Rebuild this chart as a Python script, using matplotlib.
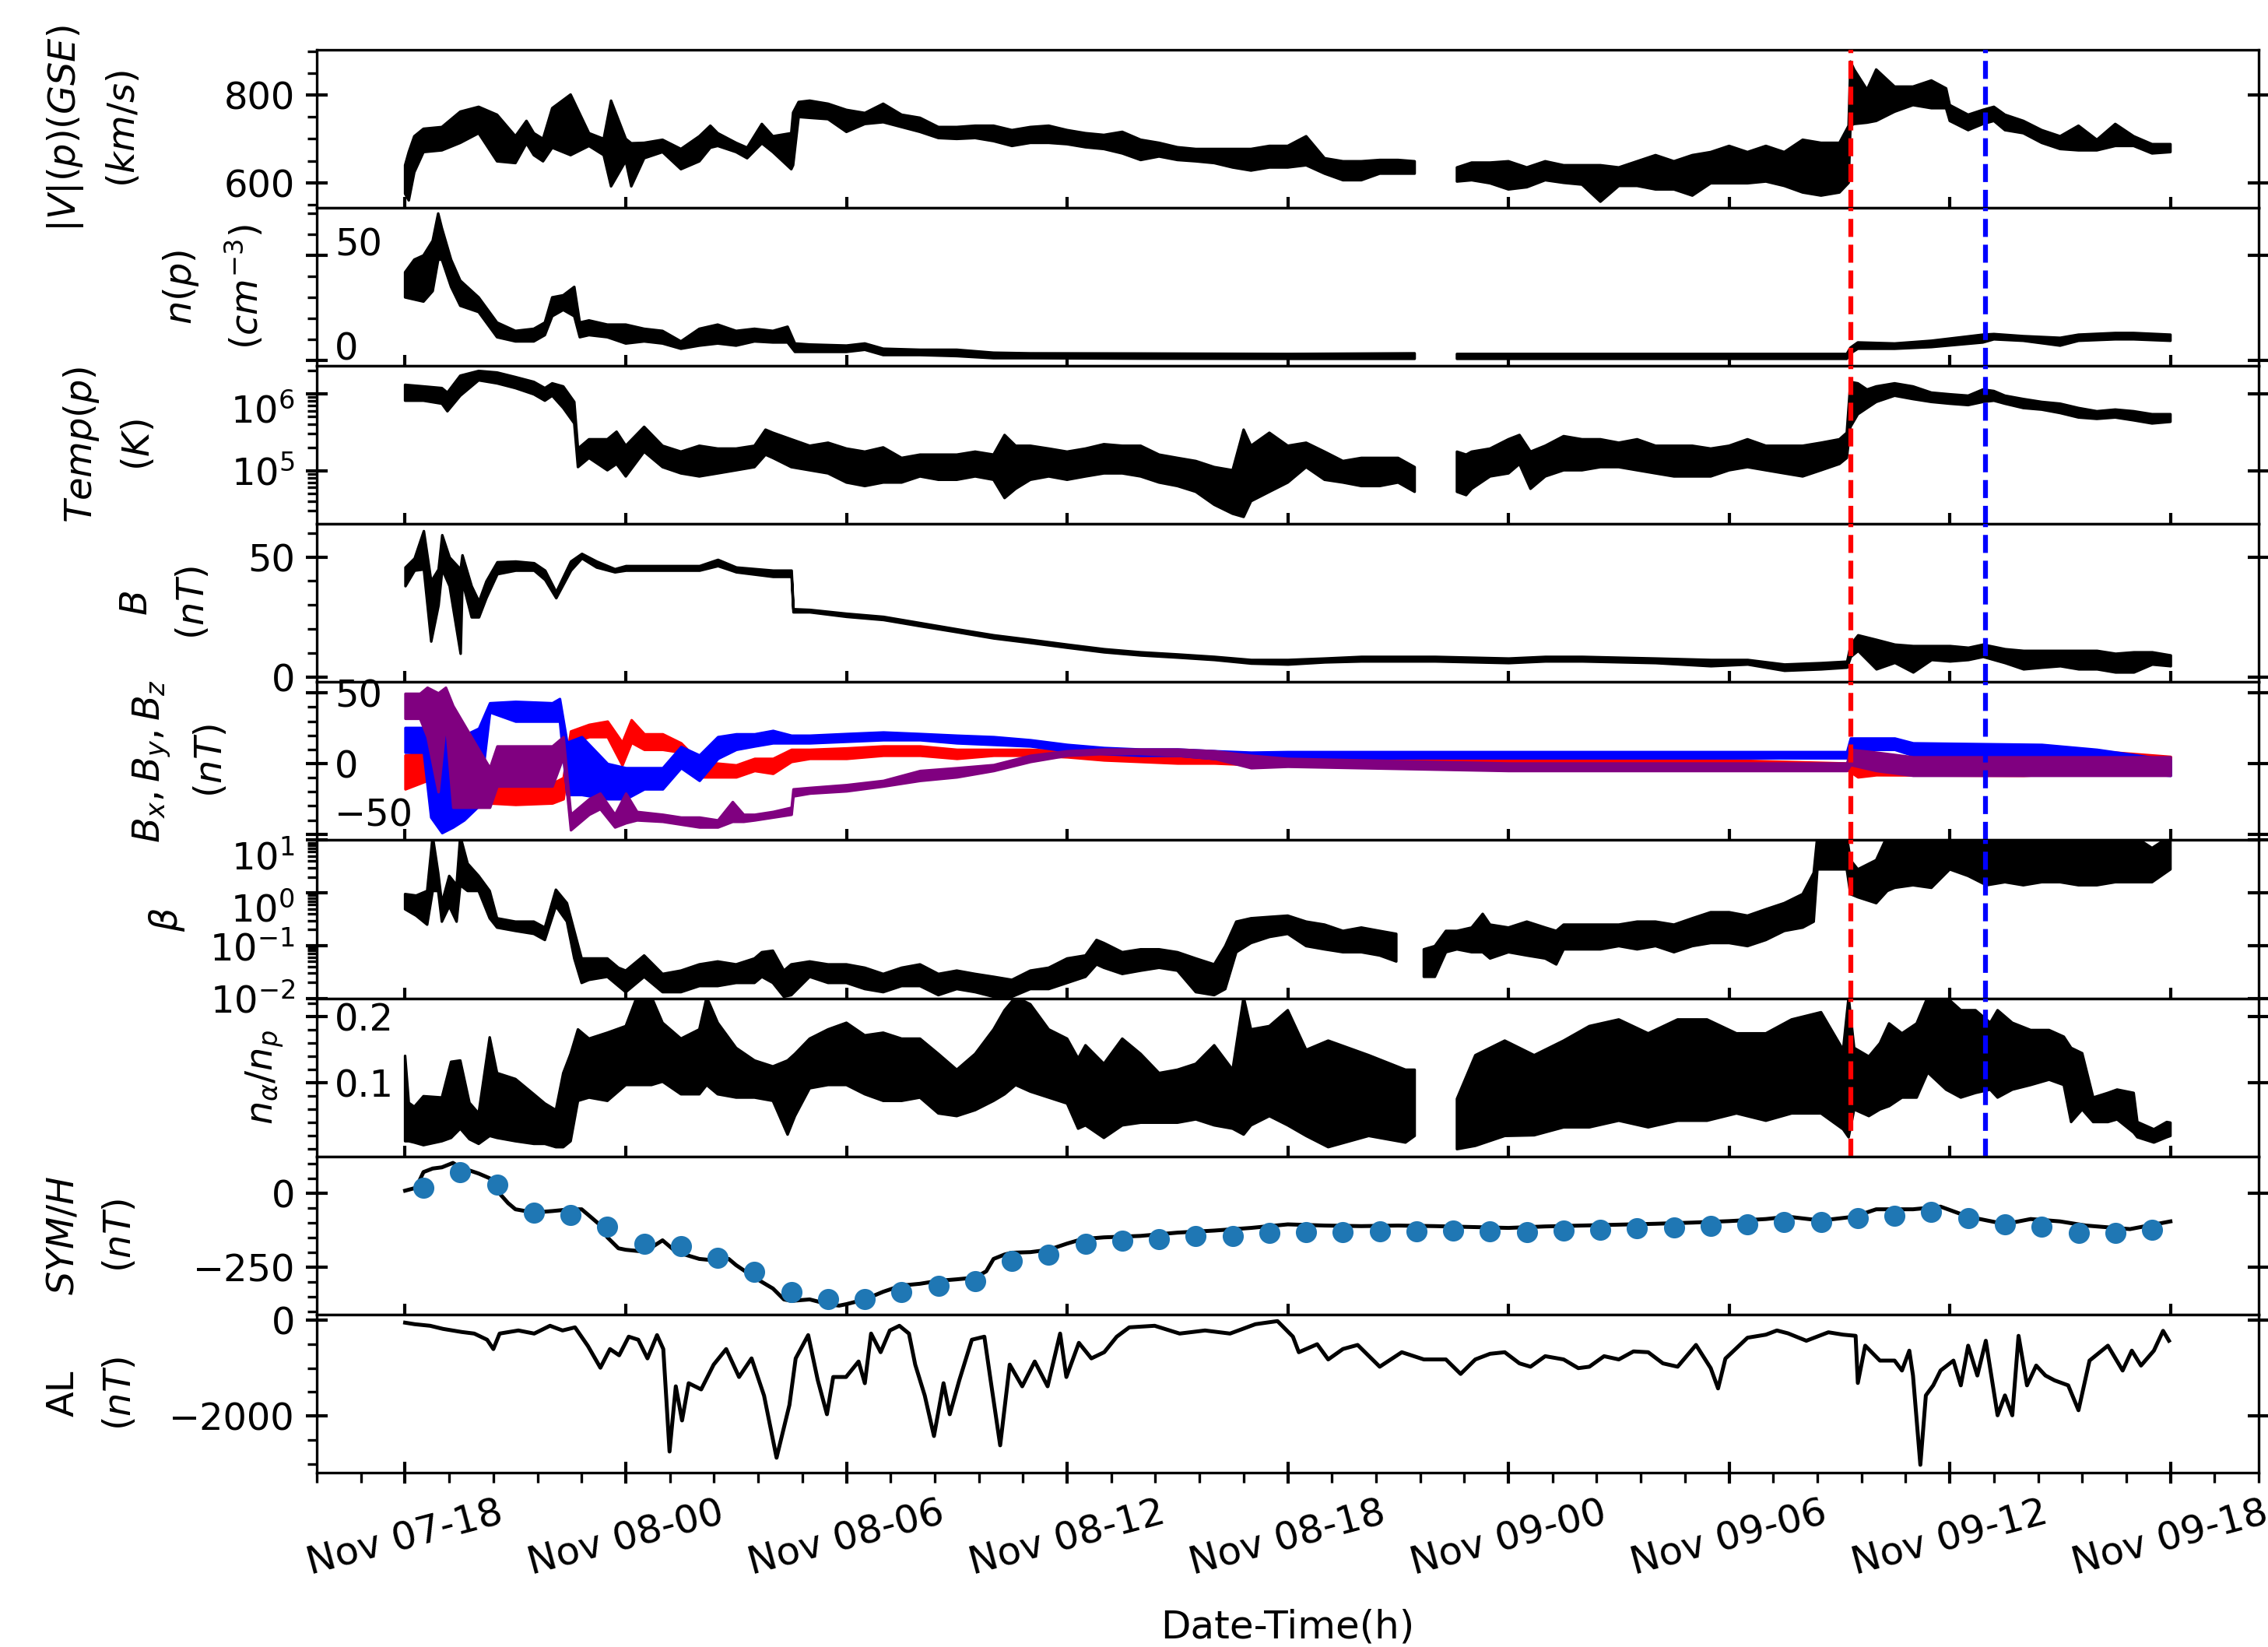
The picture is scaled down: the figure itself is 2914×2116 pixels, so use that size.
from datetime import datetime, timedelta
import numpy as np
import matplotlib
matplotlib.use("Agg")
import matplotlib.pyplot as plt
import matplotlib.dates as mdates
from matplotlib.ticker import (MultipleLocator, FixedLocator, AutoMinorLocator,
                               LogLocator, NullFormatter)

nan = np.nan
start = datetime(2004, 11, 7, 18, 0)
shock = datetime(2004, 11, 9, 9, 19)
boundary = datetime(2004, 11, 9, 12, 58)

# all times are hours after Nov 07 18:00; *_lo / *_hi = envelope of the 1-min data
v_hours = [0.0, 0.1, 0.25, 0.5, 1.0, 1.5, 2.0, 2.5, 3.0, 3.3,
           3.5, 3.75, 4.0, 4.5, 5.0, 5.4, 5.6, 6.0, 6.15, 6.5,
           7.0, 7.5, 8.0, 8.3, 8.5, 9.0, 9.3, 9.7, 10.0, 10.5,
           10.55, 10.7, 11.0, 11.5, 12.0, 12.5, 13.0, 13.5, 14.0, 14.5,
           15.0, 15.5, 16.0, 16.5, 17.0, 17.5, 18.0, 18.5, 19.0, 19.5,
           20.0, 20.5, 21.0, 21.5, 22.0, 22.5, 23.0, 23.5, 24.0, 24.5,
           25.0, 25.5, 26.0, 26.5, 27.0, 27.45, 28.0, 28.6, 29.0, 29.5,
           30.0, 30.5, 31.0, 31.5, 32.0, 32.5, 33.0, 33.5, 34.0, 34.5,
           35.0, 35.5, 36.0, 36.5, 37.0, 37.5, 38.0, 38.5, 39.0, 39.25,
           39.3, 39.4, 39.75, 40.0, 40.5, 41.0, 41.5, 41.9, 42.0, 42.5,
           42.9, 43.2, 43.5, 44.0, 44.5, 45.0, 45.5, 46.0, 46.5, 47.0,
           47.5, 48.0]
v_lo = [575, 560, 624, 670, 674, 691, 713, 649, 645, 690,
        663, 649, 680, 663, 684, 663, 592, 650, 592, 656,
        670, 631, 649, 680, 684, 670, 656, 690, 670, 631,
        640, 750, 748, 745, 716, 734, 738, 727, 716, 702,
        700, 702, 695, 684, 691, 691, 688, 681, 677, 667,
        652, 660, 652, 649, 645, 635, 628, 635, 635, 640,
        621, 606, 606, 621, 621, 621, nan, 603, 606, 599,
        585, 590, 606, 600, 596, 557, 593, 593, 585, 585,
        571, 599, 599, 599, 603, 593, 578, 571, 578, 600,
        730, 734, 737, 741, 762, 777, 770, 770, 741, 720,
        734, 741, 720, 713, 691, 677, 674, 674, 684, 684,
        667, 670]
v_hi = [640, 670, 706, 723, 727, 762, 773, 755, 706, 741,
        713, 700, 770, 801, 713, 700, 787, 700, 690, 691,
        698, 677, 706, 730, 713, 691, 680, 734, 706, 713,
        760, 784, 787, 780, 766, 759, 780, 755, 748, 727,
        727, 730, 730, 720, 727, 730, 720, 713, 709, 716,
        698, 691, 681, 677, 677, 677, 677, 684, 684, 706,
        656, 649, 649, 652, 652, 649, nan, 635, 646, 646,
        649, 635, 649, 640, 640, 640, 635, 649, 663, 649,
        663, 670, 684, 670, 684, 670, 698, 691, 691, 730,
        876, 858, 812, 858, 819, 819, 833, 815, 777, 755,
        766, 773, 755, 741, 720, 706, 730, 698, 734, 706,
        688, 688]

n_hours = [0.0, 0.25, 0.5, 0.75, 0.9, 1.0, 1.25, 1.5, 2.0, 2.5,
           3.0, 3.5, 3.8, 4.0, 4.3, 4.6, 4.75, 5.0, 5.5, 6.0,
           6.5, 7.0, 7.5, 8.0, 8.5, 9.0, 9.5, 10.0, 10.4, 10.6,
           11.0, 12.0, 12.5, 13.0, 14.0, 15.0, 16.0, 17.0, 20.0, 24.0,
           27.45, 28.0, 28.6, 39.2, 39.3, 39.5, 40.5, 41.5, 42.9, 43.2,
           44.0, 45.0, 45.5, 46.5, 47.0, 48.0]
n_lo = [30, 29, 28, 33, 48, 48, 35, 26, 23, 11,
        9, 9, 12, 21, 24, 21, 11, 12, 11, 8,
        9, 8, 5.5, 7, 8, 7, 9, 8.5, 8.5, 4,
        4, 4, 5, 2.5, 2.5, 2, 1, 1, 0.8, 0.7,
        0.7, nan, 0.7, 0.7, 3.3, 5.5, 5.5, 6.3, 8.5, 10,
        9.3, 7, 9.3, 10, 10, 9.3]
n_hi = [42, 48, 50, 57, 70, 63, 48, 38, 30, 18,
        14, 15, 18, 30, 31, 35, 18, 19, 17, 17,
        15, 14, 9, 15, 17, 14, 15, 14, 16, 8,
        7.5, 7, 8, 5.5, 5, 5, 3.6, 3.3, 3.2, 3,
        3.3, nan, 3, 3, 6, 8.5, 8, 9.3, 12.2, 12.5,
        11.5, 10.7, 12.2, 13, 13, 12.2]

temp_hours = [0.0, 0.5, 1.0, 1.15, 1.5, 2.0, 2.5, 3.0, 3.5, 3.8,
              4.0, 4.3, 4.6, 4.7, 5.0, 5.5, 5.75, 6.0, 6.5, 7.0,
              7.5, 8.0, 8.5, 9.0, 9.5, 9.8, 10.0, 10.5, 11.0, 11.5,
              12.0, 12.5, 13.0, 13.5, 14.0, 14.5, 15.0, 15.5, 16.0, 16.3,
              16.6, 17.0, 17.5, 18.0, 18.5, 19.0, 19.5, 20.0, 20.5, 21.0,
              21.5, 22.0, 22.5, 22.8, 23.0, 23.5, 24.0, 24.5, 25.0, 25.5,
              26.0, 26.5, 27.0, 27.45, 28.0, 28.6, 28.85, 29.0, 29.5, 30.0,
              30.3, 30.6, 31.0, 31.5, 32.0, 32.5, 33.0, 33.5, 34.0, 34.5,
              35.0, 35.5, 36.0, 36.5, 37.0, 37.5, 38.0, 38.5, 39.0, 39.2,
              39.3, 39.5, 39.75, 40.0, 40.5, 41.0, 41.5, 42.0, 42.5, 42.9,
              43.2, 43.5, 44.0, 44.5, 45.0, 45.5, 46.0, 46.5, 47.0, 47.5,
              48.0]
temp_lo = [8.1e5, 8.1e5, 7.4e5, 5.9e5, 9.4e5, 1.49e6, 1.36e6, 1.18e6, 9.8e5, 8.1e5,
           9.4e5, 6.5e5, 4.1e5, 1.11e5, 1.46e5, 1.01e5, 1.22e5, 8.4e4, 1.76e5, 1.11e5,
           9.2e4, 8.4e4, 9.2e4, 1.01e5, 1.11e5, 1.61e5, 1.46e5, 1.11e5, 1.01e5, 9.2e4,
           7.0e4, 6.3e4, 7.0e4, 7.0e4, 8.4e4, 7.6e4, 7.6e4, 8.4e4, 7.6e4, 4.4e4,
           5.8e4, 7.6e4, 8.4e4, 7.6e4, 8.4e4, 9.2e4, 9.2e4, 8.4e4, 7.0e4, 6.3e4,
           5.3e4, 3.6e4, 2.75e4, 2.5e4, 4.0e4, 5.3e4, 7.0e4, 1.11e5, 7.6e4, 7.0e4,
           6.3e4, 6.3e4, 7.0e4, 5.3e4, nan, 5.3e4, 4.8e4, 5.8e4, 8.4e4, 9.2e4,
           1.22e5, 5.8e4, 8.4e4, 1.01e5, 1.01e5, 1.11e5, 1.11e5, 1.01e5, 9.2e4, 8.4e4,
           8.4e4, 8.4e4, 1.01e5, 1.11e5, 1.01e5, 9.2e4, 8.4e4, 1.01e5, 1.22e5, 1.46e5,
           3.7e5, 5.4e5, 6.5e5, 7.8e5, 9.4e5, 8.5e5, 7.8e5, 7.4e5, 7.1e5, 7.8e5,
           8.1e5, 7.4e5, 6.5e5, 6.2e5, 5.6e5, 4.9e5, 4.7e5, 4.9e5, 4.5e5, 4.1e5,
           4.3e5]
temp_hi = [1.30e6, 1.24e6, 1.18e6, 1.03e6, 1.71e6, 1.97e6, 1.88e6, 1.64e6, 1.42e6, 1.18e6,
           1.36e6, 1.24e6, 7.8e5, 1.93e5, 2.55e5, 2.55e5, 3.2e5, 2.1e5, 3.7e5, 2.1e5,
           1.76e5, 2.1e5, 1.93e5, 1.93e5, 2.1e5, 3.4e5, 3.1e5, 2.55e5, 2.1e5, 2.3e5,
           1.93e5, 1.76e5, 2.0e5, 1.46e5, 1.61e5, 1.61e5, 1.61e5, 1.76e5, 1.61e5, 2.9e5,
           2.1e5, 2.1e5, 1.93e5, 1.76e5, 1.93e5, 2.2e5, 2.1e5, 2.1e5, 1.61e5, 1.46e5,
           1.33e5, 1.11e5, 1.01e5, 3.4e5, 2.1e5, 3.1e5, 2.1e5, 2.3e5, 1.76e5, 1.33e5,
           1.46e5, 1.46e5, 1.46e5, 1.11e5, nan, 1.76e5, 1.61e5, 1.76e5, 1.93e5, 2.55e5,
           2.9e5, 1.76e5, 2.1e5, 2.8e5, 2.55e5, 2.55e5, 2.3e5, 2.55e5, 2.1e5, 2.1e5,
           2.1e5, 1.93e5, 2.1e5, 2.55e5, 2.1e5, 2.1e5, 2.1e5, 2.3e5, 2.55e5, 3.1e5,
           1.42e6, 1.36e6, 1.13e6, 1.24e6, 1.36e6, 1.24e6, 1.03e6, 9.8e5, 9.4e5, 1.13e6,
           1.08e6, 9.4e5, 8.5e5, 7.8e5, 7.4e5, 6.5e5, 5.9e5, 6.2e5, 5.9e5, 5.4e5,
           5.4e5]

b_hours = [0.0, 0.25, 0.5, 0.7, 0.9, 1.0, 1.2, 1.5, 1.55, 1.8,
           2.0, 2.2, 2.5, 3.0, 3.5, 3.8, 4.1, 4.5, 4.8, 5.2,
           5.7, 6.0, 7.0, 8.0, 8.5, 9.0, 10.0, 10.5, 10.55, 11.0,
           12.0, 13.0, 14.0, 15.0, 16.0, 17.0, 18.0, 19.0, 20.0, 21.0,
           22.0, 23.0, 24.0, 25.0, 26.0, 28.0, 30.0, 31.0, 32.0, 34.0,
           35.5, 36.5, 37.5, 38.5, 39.2, 39.3, 39.5, 40.0, 40.5, 41.0,
           41.5, 42.0, 42.5, 42.9, 43.5, 44.0, 44.5, 45.0, 45.5, 46.0,
           46.5, 47.0, 47.5, 48.0]
b_lo = [38, 44.5, 45, 14.9, 30, 45, 38, 9.8, 40, 25,
        25, 33, 43, 44.5, 44.5, 40.6, 33, 44.5, 49.6, 45.8,
        43.8, 44.5, 44.5, 44.5, 46.4, 43.8, 41.9, 41.9, 27.1, 27.1,
        25.2, 23.9, 21.3, 18.8, 16.2, 14.3, 12.3, 10.4, 9.1, 8.2,
        7.2, 5.7, 5.3, 6.2, 6.6, 6.6, 5.9, 6.6, 6.6, 5.9,
        4.6, 5.3, 2.7, 3.3, 4.0, 8.5, 11, 3.3, 6, 2,
        7.2, 6.6, 7.2, 8.5, 5.9, 3.3, 4, 4.6, 3.3, 3.3,
        2, 2, 5.3, 4.6]
b_hi = [45.8, 49.6, 61, 40, 45, 59.3, 50, 45, 50.9, 38,
        31.6, 40, 48, 48.3, 47.6, 44.5, 35.5, 48.3, 51.5, 48.3,
        45.1, 46.4, 46.4, 46.4, 49, 45.8, 44.5, 44.5, 28.4, 28.1,
        26.5, 25.2, 22.6, 20, 17.5, 15.6, 13.6, 11.7, 10.4, 9.5,
        8.5, 7.2, 7.2, 7.8, 8.5, 8.5, 7.8, 8.5, 8.5, 7.8,
        7.2, 7.2, 5.3, 5.9, 6.5, 13.6, 17.5, 15.6, 13.6, 13,
        13, 13, 12.3, 13.6, 11.7, 11, 11, 11, 11, 11,
        9.8, 10.4, 10.4, 9.1]

bx_hours = [0.0, 0.6, 1.0, 1.5, 2.0, 2.3, 3.0, 4.0, 4.3, 4.5,
            5.0, 5.5, 5.9, 6.15, 6.5, 7.0, 7.5, 8.0, 9.0, 9.5,
            10.0, 10.5, 11.0, 12.0, 13.0, 14.0, 15.0, 16.0, 17.0, 18.0,
            19.0, 20.0, 21.0, 22.0, 23.0, 24.0, 30.0, 36.0, 39.2, 39.5,
            40.0, 44.0, 46.0, 48.0]
bx_lo = [-18, -12, -15, -20, -25, -28, -29, -28, -25, 14.6,
         19, 19, -1, 15, 10, 10, 8, -9.5, -9.5, -5,
         -7, 1.4, 3.6, 3.6, 5.8, 5.8, 3.6, 5.8, 5.8, 4.7,
         2.5, 1.4, 0.3, 0.3, -0.8, -0.8, -0.8, -3, -4, -9.5,
         -8, -8.4, -6.2, -6]
bx_hi = [6, 8, 5, 0, -10, -14, -14, -14, -10, 23,
         27.7, 30, 15, 31, 21, 21, 14.6, 1.4, -1, 3.6,
         3.6, 10, 10, 11, 12.4, 12.4, 10, 10, 10, 9,
         7, 5.8, 4.7, 3.6, 2.5, 2.5, 3.6, 2.5, 0.3, 1.4,
         2.5, 2.5, 9, 5]

by_hours = [0.0, 0.5, 0.7, 1.0, 1.3, 1.6, 2.0, 2.3, 3.0, 4.0,
            4.2, 4.4, 4.8, 5.5, 6.0, 6.5, 7.0, 7.5, 8.0, 8.5,
            9.0, 9.5, 10.0, 10.5, 11.0, 12.0, 13.0, 14.0, 15.0, 16.0,
            17.0, 18.0, 19.0, 20.0, 21.0, 22.0, 23.0, 24.0, 39.2, 39.3,
            40.5, 41.0, 44.5, 46.0, 48.0]
by_lo = [8, 8, -38, -49, -45, -40, -30, 36.5, 30, 30,
         30, -22, -22, -25, -25, -18, -18, -3, -12, 3.6,
         10, 12.4, 14.6, 14.6, 14.6, 15.7, 16.8, 16.8, 14.6, 13.5,
         12.4, 9, 7, 5.8, 5.8, 3.6, 2.5, 4, 4, 10,
         10, 5.8, 3.6, -5, -8.4]
by_hi = [25.5, 25.5, 36, 41, 35, 20, 25, 43, 44, 43,
         46, 15, 19, 0, -3, -3, -3, 12, 6, 19,
         21, 21, 23.4, 20, 20, 21.2, 22.3, 21.2, 20, 19,
         16.8, 13.5, 11.3, 10.2, 10.2, 9, 8, 8.4, 8.4, 18,
         18, 14.6, 13.5, 10, 2.5]

bz_hours = [0.0, 0.4, 0.6, 0.9, 1.1, 1.3, 2.0, 2.3, 2.5, 4.0,
            4.3, 4.5, 5.0, 5.3, 5.7, 6.0, 6.3, 7.0, 7.5, 8.0,
            8.5, 8.9, 9.2, 9.5, 10.0, 10.5, 10.55, 11.0, 12.0, 13.0,
            14.0, 15.0, 16.0, 17.0, 18.0, 19.0, 20.0, 21.0, 22.0, 23.0,
            24.0, 30.0, 39.2, 39.3, 40.0, 41.0, 48.0]
bz_lo = [32, 32, 19, -20, 30, -31, -31, -31, -16, -16,
         5, -47, -36, -32, -45, -42, -40, -41, -43, -45,
         -45, -41, -41, -40, -38, -36, -23, -21, -19.4, -16,
         -12, -9.5, -5, 1.4, 5.8, 7, 7, 5.8, 3.6, -3,
         -2, -5, -5, -0.8, -5, -8.4, -8.4]
bz_hi = [49.7, 49.7, 54, 50, 54, 41, 10, -3, 12.4, 12.4,
         19, -36, -25, -21, -36, -21, -34, -36, -38, -38,
         -40, -27, -36, -36, -34, -31, -18, -17, -15, -12,
         -5, -3, -0.8, 5.8, 9, 10.2, 10.2, 10.2, 9, 5.8,
         3.6, 0.3, 0.3, 10, 8, 4.7, 4.7]

beta_hours = [0.0, 0.3, 0.6, 0.75, 0.9, 1.0, 1.2, 1.4, 1.5, 1.7,
              2.0, 2.3, 2.5, 3.0, 3.5, 3.8, 4.1, 4.4, 4.6, 4.8,
              5.0, 5.5, 5.8, 6.0, 6.5, 7.0, 7.5, 8.0, 8.5, 9.0,
              9.5, 9.7, 10.0, 10.3, 10.5, 11.0, 11.5, 12.0, 12.5, 13.0,
              13.5, 14.0, 14.5, 15.0, 15.5, 16.0, 16.5, 17.0, 17.5, 18.0,
              18.5, 18.8, 19.0, 19.5, 20.0, 20.5, 21.0, 21.5, 22.0, 22.3,
              22.6, 23.0, 23.5, 24.0, 24.5, 25.0, 25.5, 26.0, 26.5, 26.95,
              27.3, 27.7, 28.0, 28.3, 28.6, 29.0, 29.3, 29.5, 30.0, 30.5,
              31.0, 31.3, 31.5, 32.0, 32.5, 33.0, 33.5, 34.0, 34.5, 35.0,
              35.5, 36.0, 36.5, 37.0, 37.5, 38.0, 38.3, 38.4, 39.2, 39.3,
              39.5, 40.0, 40.3, 40.5, 41.0, 41.5, 42.0, 42.5, 43.0, 43.5,
              44.0, 44.5, 45.0, 45.5, 46.0, 46.5, 47.0, 47.5, 48.0]
beta_lo = [0.49, 0.37, 0.25, 1.09, 1.09, 0.285, 0.56, 0.285, 1.4, 1.09,
           1.09, 0.33, 0.22, 0.19, 0.167, 0.128, 0.56, 0.285, 0.057, 0.0196,
           0.0224, 0.0256, 0.0171, 0.0131, 0.0256, 0.0131, 0.0131, 0.0171, 0.0171, 0.0196,
           0.0196, 0.0256, 0.0196, 0.0107, 0.0115, 0.0256, 0.0196, 0.0196, 0.015, 0.0131,
           0.0171, 0.0171, 0.0115, 0.015, 0.0131, 0.0107, 0.0107, 0.015, 0.015, 0.0196,
           0.0256, 0.044, 0.038, 0.029, 0.0335, 0.038, 0.0335, 0.0131, 0.0115, 0.015,
           0.075, 0.112, 0.146, 0.167, 0.098, 0.085, 0.075, 0.075, 0.065, 0.05,
           nan, 0.0256, 0.0256, 0.075, 0.085, 0.075, 0.075, 0.057, 0.075, 0.065,
           0.057, 0.044, 0.085, 0.085, 0.085, 0.098, 0.085, 0.098, 0.075, 0.098,
           0.112, 0.112, 0.098, 0.128, 0.19, 0.22, 0.285, 2.8, 2.8, 0.95,
           0.83, 0.64, 1.09, 1.25, 1.4, 1.25, 2.8, 2.1, 1.4, 1.6,
           1.4, 1.6, 1.6, 1.4, 1.4, 1.6, 1.6, 1.6, 2.8]
beta_hi = [0.95, 0.89, 1.09, 12, 2.4, 0.64, 2.1, 1.4, 12, 3.6,
           2.1, 1.09, 0.33, 0.285, 0.285, 0.22, 1.15, 0.64, 0.19, 0.057,
           0.057, 0.057, 0.038, 0.0335, 0.065, 0.029, 0.0335, 0.044, 0.05, 0.044,
           0.057, 0.075, 0.08, 0.0335, 0.044, 0.05, 0.044, 0.044, 0.038, 0.029,
           0.038, 0.044, 0.029, 0.0335, 0.029, 0.0256, 0.0224, 0.0335, 0.038, 0.057,
           0.065, 0.128, 0.112, 0.075, 0.085, 0.085, 0.075, 0.057, 0.044, 0.098,
           0.285, 0.33, 0.35, 0.37, 0.285, 0.25, 0.19, 0.22, 0.19, 0.167,
           nan, 0.085, 0.098, 0.19, 0.19, 0.22, 0.40, 0.25, 0.22, 0.285,
           0.22, 0.19, 0.25, 0.25, 0.25, 0.25, 0.285, 0.285, 0.25, 0.33,
           0.43, 0.43, 0.37, 0.49, 0.64, 0.95, 2.4, 12, 12, 4.2,
           2.8, 4.2, 12, 12, 12, 12, 12, 12, 12, 12,
           12, 12, 12, 12, 12, 12, 12, 7.1, 12]

ratio_hours = [0.0, 0.1, 0.25, 0.5, 1.0, 1.25, 1.5, 1.75, 2.0, 2.3,
               2.5, 3.0, 3.5, 3.8, 4.1, 4.3, 4.5, 4.7, 5.0, 5.5,
               6.0, 6.3, 6.7, 7.0, 7.5, 8.0, 8.2, 8.5, 9.0, 9.5,
               10.0, 10.4, 10.6, 11.0, 11.5, 12.0, 12.5, 13.0, 13.5, 14.0,
               14.5, 15.0, 15.5, 16.0, 16.3, 16.6, 17.0, 17.5, 18.0, 18.3,
               18.5, 19.0, 19.5, 20.0, 20.5, 21.0, 21.5, 22.0, 22.5, 22.8,
               23.0, 23.5, 24.0, 24.5, 25.1, 26.2, 27.2, 27.45, 28.0, 28.6,
               29.1, 29.9, 30.7, 31.5, 32.2, 33.0, 33.8, 34.6, 35.4, 36.2,
               37.0, 37.7, 38.5, 39.1, 39.25, 39.4, 39.8, 40.1, 40.35, 40.7,
               41.1, 41.4, 41.9, 42.3, 42.7, 43.1, 43.3, 43.7, 44.2, 44.7,
               45.1, 45.3, 45.6, 45.9, 46.3, 46.55, 47.0, 47.1, 47.55, 47.9,
               48.0]
ratio_lo = [0.012, 0.012, 0.010, 0.006, 0.012, 0.017, 0.031, 0.015, 0.008, 0.02,
            0.017, 0.012, 0.008, 0.008, 0.003, 0.003, 0.012, 0.073, 0.078, 0.073,
            0.097, 0.097, 0.097, 0.102, 0.083, 0.083, 0.097, 0.083, 0.078, 0.078,
            0.073, 0.022, 0.05, 0.092, 0.097, 0.097, 0.083, 0.073, 0.073, 0.078,
            0.054, 0.050, 0.059, 0.073, 0.083, 0.097, 0.087, 0.078, 0.069, 0.031,
            0.036, 0.017, 0.036, 0.040, 0.040, 0.040, 0.045, 0.036, 0.031, 0.022,
            0.036, 0.050, 0.036, 0.02, 0.003, 0.02, 0.01, 0.02, nan, 0.0,
            0.005, 0.02, 0.021, 0.033, 0.033, 0.043, 0.033, 0.043, 0.043, 0.054,
            0.043, 0.054, 0.054, 0.03, 0.018, 0.06, 0.05, 0.06, 0.065, 0.078,
            0.078, 0.116, 0.09, 0.078, 0.085, 0.09, 0.078, 0.09, 0.097, 0.105,
            0.097, 0.041, 0.06, 0.041, 0.041, 0.045, 0.025, 0.018, 0.01, 0.018,
            0.02]
ratio_hi = [0.141, 0.07, 0.064, 0.08, 0.078, 0.132, 0.134, 0.07, 0.054, 0.169,
            0.115, 0.106, 0.083, 0.069, 0.059, 0.115, 0.144, 0.181, 0.167, 0.176,
            0.186, 0.23, 0.23, 0.191, 0.167, 0.181, 0.23, 0.191, 0.153, 0.134,
            0.125, 0.134, 0.144, 0.167, 0.181, 0.191, 0.172, 0.176, 0.167, 0.167,
            0.144, 0.120, 0.144, 0.181, 0.21, 0.23, 0.219, 0.181, 0.167, 0.137,
            0.157, 0.129, 0.167, 0.144, 0.115, 0.120, 0.129, 0.157, 0.120, 0.23,
            0.181, 0.186, 0.21, 0.15, 0.164, 0.142, 0.12, 0.12, nan, 0.076,
            0.142, 0.164, 0.142, 0.164, 0.186, 0.196, 0.175, 0.196, 0.196, 0.175,
            0.175, 0.196, 0.207, 0.15, 0.23, 0.153, 0.14, 0.16, 0.19, 0.175,
            0.19, 0.23, 0.23, 0.21, 0.21, 0.191, 0.21, 0.191, 0.18, 0.18,
            0.17, 0.153, 0.145, 0.078, 0.085, 0.09, 0.085, 0.041, 0.03, 0.041,
            0.04]

sym_hours = [0.0, 0.3, 0.5, 0.75, 1.0, 1.3, 1.5, 2.0, 2.3, 2.5,
             2.8, 3.0, 3.5, 4.0, 4.5, 4.8, 5.0, 5.3, 5.5, 5.8,
             6.0, 6.4, 6.6, 6.8, 7.0, 7.3, 7.6, 8.0, 8.5, 8.8,
             9.0, 9.5, 10.0, 10.3, 10.5, 11.0, 11.5, 11.8, 12.0, 12.5,
             13.0, 13.5, 14.0, 14.5, 15.0, 15.5, 15.8, 16.0, 16.3, 16.5,
             17.0, 17.5, 18.0, 18.3, 18.5, 19.0, 20.0, 21.0, 22.0, 23.0,
             24.0, 25.0, 26.0, 27.0, 28.0, 29.0, 30.0, 31.0, 32.0, 33.0,
             34.0, 35.0, 36.0, 37.0, 37.6, 38.5, 39.4, 40.0, 41.0, 41.75,
             42.5, 43.5, 44.2, 45.0, 45.7, 46.9, 48.0]
sym_h = [8, 18, 71, 83, 87, 102, 87, 66, 50, 8,
         -34, -55, -66, -61, -55, -55, -76, -108, -150, -187,
         -192, -197, -192, -176, -160, -192, -208, -223, -229, -223,
         -244, -286, -323, -360, -365, -360, -376, -381, -376, -360,
         -334, -313, -307, -297, -292, -286, -265, -223, -208, -202,
         -200, -192, -171, -160, -155, -150, -145, -134, -127, -118,
         -106, -110, -112, -110, -112, -115, -118, -113, -110, -107,
         -104, -100, -95, -88, -80, -93, -80, -55, -55, -46,
         -80, -105, -88, -96, -110, -122, -96]

sym_hourly_hours = [0.5, 1.5, 2.5, 3.5, 4.5, 5.5, 6.5, 7.5, 8.5, 9.5,
                    10.5, 11.5, 12.5, 13.5, 14.5, 15.5, 16.5, 17.5, 18.5, 19.5,
                    20.5, 21.5, 22.5, 23.5, 24.5, 25.5, 26.5, 27.5, 28.5, 29.5,
                    30.5, 31.5, 32.5, 33.5, 34.5, 35.5, 36.5, 37.5, 38.5, 39.5,
                    40.5, 41.5, 42.5, 43.5, 44.5, 45.5, 46.5, 47.5]
sym_hourly = [18, 71, 29, -66, -74, -113, -171, -179, -218, -266,
              -334, -360, -360, -334, -313, -297, -229, -208, -171, -160,
              -155, -145, -145, -134, -132, -132, -130, -130, -128, -130,
              -132, -126, -124, -120, -116, -110, -106, -97, -97, -85,
              -76, -63, -85, -105, -113, -134, -134, -125]

al_hours = [0.0, 0.26, 0.68, 1.03, 1.54, 1.88, 2.23, 2.40, 2.57, 3.08,
            3.51, 3.94, 4.28, 4.62, 4.97, 5.31, 5.57, 5.82, 6.08, 6.34,
            6.59, 6.85, 7.02, 7.19, 7.36, 7.53, 7.71, 8.05, 8.39, 8.73,
            9.08, 9.42, 9.76, 10.10, 10.45, 10.62, 10.96, 11.22, 11.47, 11.64,
            11.99, 12.33, 12.50, 12.67, 12.93, 13.18, 13.44, 13.70, 13.87, 14.13,
            14.38, 14.64, 14.81, 15.07, 15.41, 15.75, 15.92, 16.18, 16.44, 16.78,
            17.12, 17.47, 17.81, 17.98, 18.32, 18.66, 19.01, 19.35, 19.69, 20.38,
            21.06, 21.75, 22.43, 23.12, 23.72, 24.14, 24.3, 24.8, 25.1, 25.5,
            25.9, 26.5, 27.1, 27.7, 28.3, 28.7, 29.1, 29.5, 29.9, 30.3,
            30.6, 31.0, 31.5, 31.9, 32.2, 32.6, 33.0, 33.4, 33.8, 34.2,
            34.6, 35.1, 35.5, 35.7, 35.9, 36.5, 37.0, 37.3, 37.6, 38.1,
            38.7, 39.1, 39.44, 39.5, 39.7, 40.1, 40.5, 40.7, 40.9, 41.0,
            41.2, 41.35, 41.55, 41.75, 42.1, 42.3, 42.5, 42.75, 42.98, 43.3,
            43.5, 43.7, 43.87, 44.1, 44.35, 44.6, 44.85, 45.22, 45.5, 45.8,
            46.3, 46.7, 46.95, 47.2, 47.55, 47.8, 47.96]
al = [-49, -81, -114, -179, -244, -277, -406, -601, -277, -212,
      -277, -114, -212, -147, -536, -991, -601, -731, -342, -406,
      -796, -309, -601, -2744, -1380, -2094, -1315, -1445, -926, -601,
      -1185, -796, -1575, -2873, -1770, -796, -309, -1250, -1964, -1185,
      -1185, -861, -1315, -277, -666, -212, -114, -277, -926, -1575,
      -2419, -1315, -1964, -1250, -406, -342, -1250, -2614, -926, -1380,
      -861, -1380, -277, -1185, -471, -796, -666, -342, -147, -114,
      -277, -212, -277, -81, -16, -342, -667, -500, -818, -600,
      -515, -970, -667, -818, -818, -1121, -818, -700, -667, -900,
      -970, -750, -818, -1000, -970, -750, -818, -650, -667, -900,
      -970, -515, -1000, -1424, -800, -364, -300, -212, -272, -427,
      -250, -300, -324, -1310, -530, -842, -842, -1050, -634, -1154,
      -3022, -1570, -1360, -1050, -842, -1360, -530, -1154, -427, -1986,
      -1570, -1986, -324, -1360, -946, -1154, -1256, -1360, -1880, -842,
      -530, -1050, -634, -946, -634, -220, -427]


def when(hours):
    return [start + timedelta(hours=float(h)) for h in hours]


def set_label_va(ax, value, va):
    locs = ax.yaxis.get_majorticklocs()
    ticks = ax.yaxis.get_major_ticks(len(locs))
    for loc, tick in zip(locs, ticks):
        if np.isclose(loc, value):
            tick.label1.set_verticalalignment(va)


fig, axes = plt.subplots(9, 1, sharex=True, figsize=(2914 / 300, 2116 / 300), dpi=300)
fig.subplots_adjust(left=0.1397, right=0.9959, top=0.9698, bottom=0.1059, hspace=0)
ax_v, ax_n, ax_t, ax_b, ax_bxyz, ax_beta, ax_ratio, ax_sym, ax_al = axes

ax_v.fill_between(when(v_hours), v_lo, v_hi, color='k', lw=0.8)
ax_v.set_ylim(543, 903)
ax_v.yaxis.set_major_locator(MultipleLocator(200))

ax_n.fill_between(when(n_hours), n_lo, n_hi, color='k', lw=0.8)
ax_n.set_ylim(-2.7, 72.7)
ax_n.yaxis.set_major_locator(MultipleLocator(50))

ax_t.fill_between(when(temp_hours), temp_lo, temp_hi, color='k', lw=0.8)
ax_t.set_yscale('log')
ax_t.set_ylim(2.02e4, 2.29e6)

ax_b.fill_between(when(b_hours), b_lo, b_hi, color='k', lw=0.8)
ax_b.set_ylim(-2.2, 63.8)
ax_b.yaxis.set_major_locator(MultipleLocator(50))

ax_bxyz.fill_between(when(bx_hours), bx_lo, bx_hi, color='red', lw=0.8)
ax_bxyz.fill_between(when(by_hours), by_lo, by_hi, color='blue', lw=0.8)
ax_bxyz.fill_between(when(bz_hours), bz_lo, bz_hi, color='purple', lw=0.8)
ax_bxyz.set_ylim(-54.3, 57.7)
ax_bxyz.yaxis.set_major_locator(MultipleLocator(50))

ax_beta.fill_between(when(beta_hours), beta_lo, beta_hi, color='k', lw=0.8)
ax_beta.set_yscale('log')
ax_beta.set_ylim(1e-2, 1e1)

ax_ratio.fill_between(when(ratio_hours), ratio_lo, ratio_hi, color='k', lw=0.8)
ax_ratio.set_ylim(-0.011, 0.228)
ax_ratio.yaxis.set_major_locator(FixedLocator([0.1, 0.2]))

ax_sym.plot(when(sym_hours), sym_h, color='k', lw=1.2)
ax_sym.plot(when(sym_hourly_hours), sym_hourly, 'o', color='#1f77b4', ms=5.5)
ax_sym.set_ylim(-411, 124)
ax_sym.yaxis.set_major_locator(MultipleLocator(250))

ax_al.plot(when(al_hours), al, color='k', lw=1.2)
ax_al.set_ylim(-3184, 122)
ax_al.yaxis.set_major_locator(MultipleLocator(2000))

for ax in (ax_t, ax_beta):
    ax.yaxis.set_major_locator(LogLocator(base=10, numticks=12))
    ax.yaxis.set_minor_locator(LogLocator(base=10, subs=np.arange(2, 10), numticks=12))
    ax.yaxis.set_minor_formatter(NullFormatter())

for ax in axes[:7]:
    ax.axvline(shock, color='red', ls='--', lw=1.5, zorder=5)
    ax.axvline(boundary, color='blue', ls='--', lw=1.5, zorder=5)

ylabels = [r'$|V|(p)(GSE)$' + '\n' + r'$(km/s)$',
           r'$n(p)$' + '\n' + r'$(cm^{-3})$',
           r'$Temp(p)$' + '\n' + r'$(K)$',
           r'$B$' + '\n' + r'$(nT)$',
           r'$B_x, B_y, B_z$' + '\n' + r'$(nT)$',
           r'$\beta$',
           r'$n_\alpha/n_p$',
           r'$SYM/H$' + '\n' + r'$(nT)$',
           'AL\n' + r'$(nT)$']
label_x = [-0.090, -0.026, -0.082, -0.054, -0.045, -0.067, -0.016, -0.092, -0.092]

for ax, lab, lx in zip(axes, ylabels, label_x):
    if ax.get_yscale() == 'linear':
        ax.yaxis.set_minor_locator(AutoMinorLocator())
    ax.tick_params(axis='both', which='major', direction='inout', length=6.5,
                   width=1.0, right=True, labelsize=11.5)
    ax.tick_params(axis='y', which='minor', direction='out', length=3,
                   width=0.8, left=True, right=False)
    ax.tick_params(axis='x', which='minor', bottom=False)
    ax.set_ylabel(lab, fontsize=11.5, linespacing=1.7)
    ax.yaxis.set_label_coords(lx, 0.5)

# tick labels drawn inside the panel
for ax in (ax_n, ax_bxyz, ax_ratio):
    ax.tick_params(axis='y', which='major', pad=-8.75)
    for lbl in ax.get_yticklabels():
        lbl.set_horizontalalignment('left')
for value in (0, 50):
    set_label_va(ax_n, value, 'baseline')
set_label_va(ax_bxyz, -50, 'bottom')
set_label_va(ax_t, 1e6, 'top')
set_label_va(ax_beta, 10, 'top')
set_label_va(ax_beta, 1, 'top')

ax_al.set_xlim(start - timedelta(hours=2.4), start + timedelta(hours=50.4))
ax_al.xaxis.set_major_locator(mdates.HourLocator(byhour=[0, 6, 12, 18]))
ax_al.xaxis.set_major_formatter(mdates.DateFormatter('%b %d-%H'))
ax_al.xaxis.set_minor_locator(AutoMinorLocator())
ax_al.tick_params(axis='x', which='minor', bottom=True, direction='out', length=3, width=0.8)
ax_al.tick_params(axis='x', which='major', labelsize=12, labelrotation=15)
ax_al.set_xlabel('Date-Time(h)', fontsize=12, labelpad=8)

fig.savefig('out.png', dpi=300)
